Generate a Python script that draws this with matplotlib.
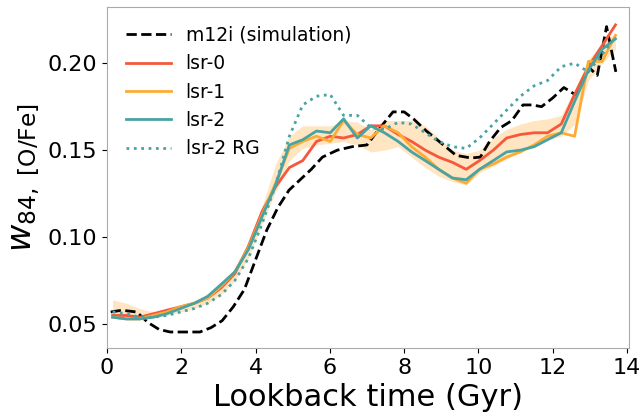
## w84 [O/Fe] vs lookback time: m12i simulation vs lsr-0/1/2 reconstructions

import numpy as np
import matplotlib
matplotlib.use("Agg")
import matplotlib.pyplot as plt

######################################
## common time grid of the lsr curves (Gyr)
t = [0.15, 0.52, 0.88, 1.25, 1.61, 1.98, 2.35, 2.71, 3.08, 3.44,
     3.81, 4.18, 4.54, 4.91, 5.27, 5.64, 6.01, 6.37, 6.74, 7.10,
     7.47, 7.84, 8.20, 8.57, 8.93, 9.30, 9.67, 10.03, 10.40, 10.76,
     11.13, 11.50, 11.86, 12.23, 12.59, 12.96, 13.33, 13.69]

lsr0 = [0.055, 0.055, 0.054, 0.056, 0.058, 0.060, 0.062, 0.065, 0.071, 0.079,
        0.095, 0.115, 0.129, 0.140, 0.144, 0.155, 0.158, 0.157, 0.159, 0.164,
        0.164, 0.159, 0.155, 0.150, 0.146, 0.143, 0.139, 0.144, 0.150, 0.157,
        0.159, 0.160, 0.160, 0.165, 0.182, 0.198, 0.210, 0.222]

lsr1 = [0.054, 0.053, 0.053, 0.055, 0.057, 0.060, 0.062, 0.065, 0.072, 0.080,
        0.094, 0.113, 0.131, 0.151, 0.155, 0.158, 0.155, 0.167, 0.159, 0.157,
        0.164, 0.160, 0.152, 0.146, 0.139, 0.134, 0.131, 0.139, 0.142, 0.146,
        0.149, 0.153, 0.158, 0.160, 0.158, 0.201, 0.201, 0.216]

lsr2 = [0.054, 0.053, 0.053, 0.054, 0.056, 0.059, 0.062, 0.066, 0.073, 0.080,
        0.093, 0.112, 0.130, 0.153, 0.156, 0.161, 0.160, 0.168, 0.157, 0.164,
        0.160, 0.155, 0.149, 0.144, 0.139, 0.134, 0.133, 0.139, 0.144, 0.149,
        0.150, 0.152, 0.156, 0.160, 0.178, 0.196, 0.208, 0.214]

lsr2_rg = [0.057, 0.056, 0.054, 0.054, 0.055, 0.057, 0.059, 0.062, 0.067, 0.075,
           0.088, 0.108, 0.130, 0.158, 0.176, 0.181, 0.182, 0.170, 0.170, 0.163,
           0.162, 0.166, 0.165, 0.160, 0.155, 0.152, 0.151, 0.157, 0.165, 0.173,
           0.181, 0.187, 0.190, 0.198, 0.200, 0.195, 0.205, 0.215]

## shaded range of the lsr curves
band_lo = [0.054, 0.054, 0.053, 0.054, 0.055, 0.057, 0.059, 0.062, 0.067, 0.075,
           0.088, 0.108, 0.126, 0.144, 0.151, 0.153, 0.154, 0.155, 0.153, 0.149,
           0.150, 0.152, 0.146, 0.140, 0.135, 0.132, 0.130, 0.137, 0.141, 0.145,
           0.149, 0.152, 0.156, 0.158, 0.165, 0.190, 0.200, 0.208]
band_hi = [0.064, 0.062, 0.059, 0.057, 0.058, 0.060, 0.063, 0.066, 0.072, 0.080,
           0.095, 0.118, 0.142, 0.158, 0.164, 0.164, 0.164, 0.167, 0.166, 0.162,
           0.167, 0.167, 0.167, 0.164, 0.157, 0.150, 0.148, 0.150, 0.157, 0.162,
           0.165, 0.167, 0.168, 0.170, 0.185, 0.202, 0.212, 0.217]

## simulation (own time sampling)
t_sim = [0.1, 0.4, 0.8, 1.1, 1.4, 1.7, 2.0, 2.5, 2.8, 3.1,
         3.4, 3.7, 4.0, 4.3, 4.6, 4.9, 5.2, 5.5, 5.8, 6.2,
         6.6, 7.0, 7.3, 7.7, 8.0, 8.25, 8.6, 9.0, 9.4, 9.8,
         10.05, 10.3, 10.6, 10.9, 11.2, 11.45, 11.7, 12.0, 12.3, 12.6,
         12.8, 13.0, 13.2, 13.45, 13.7]
sim = [0.057, 0.058, 0.057, 0.051, 0.047, 0.0455, 0.0455, 0.0455, 0.048, 0.052,
       0.060, 0.070, 0.087, 0.104, 0.117, 0.127, 0.133, 0.139, 0.146, 0.150,
       0.152, 0.153, 0.1615, 0.172, 0.172, 0.168, 0.161, 0.154, 0.147, 0.1455,
       0.146, 0.155, 0.163, 0.167, 0.176, 0.176, 0.175, 0.180, 0.186, 0.182,
       0.189, 0.197, 0.193, 0.221, 0.195]

c_red = "#f5583a"
c_orange = "#ffab33"
c_teal = "#4aa3a3"

fig = plt.figure(figsize=(6.43, 4.2), dpi=100)
ax = fig.add_axes([0.1664, 0.171, 0.8116, 0.812])

ax.fill_between(t, band_lo, band_hi, color=c_orange, alpha=0.3, lw=0)
ax.plot(t_sim, sim, "k--", lw=2, label="m12i (simulation)")
ax.plot(t, lsr0, color=c_red, lw=2, label="lsr-0")
ax.plot(t, lsr1, color=c_orange, lw=2, label="lsr-1")
ax.plot(t, lsr2, color=c_teal, lw=2, label="lsr-2")
ax.plot(t, lsr2_rg, color=c_teal, lw=2, ls=":", label="lsr-2 RG")

ax.set_xlim(0, 14.05)
ax.set_ylim(0.0362, 0.2322)
ax.set_xticks([0, 2, 4, 6, 8, 10, 12, 14])
ax.set_yticks([0.05, 0.10, 0.15, 0.20])
ax.tick_params(labelsize=16)
ax.set_xlabel("Lookback time (Gyr)", fontsize=22)
ax.set_ylabel(r"$w_{84,\ \rm [O/Fe]}$", fontsize=24)
for s in ax.spines.values():
    s.set_color("#aaaaaa")

ax.legend(loc="upper left", fontsize=13.5, frameon=False, handlelength=2.4,
          borderaxespad=0.6)

fig.savefig("out.png", dpi=100)
